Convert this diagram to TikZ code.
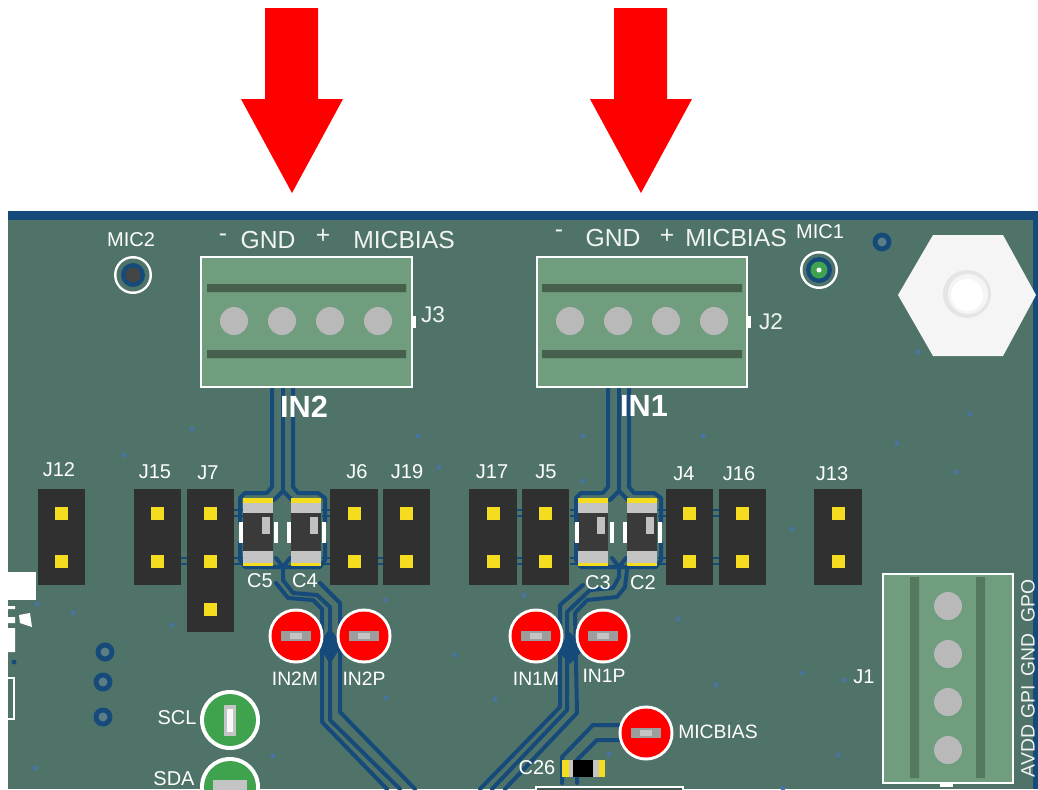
\documentclass[tikz,border=0pt]{standalone}
\usepackage{fontspec}
\setmainfont{Liberation Sans}
\definecolor{board}{HTML}{4F7368}
\definecolor{trace}{HTML}{154A7A}
\definecolor{term}{HTML}{6F9D7E}
\definecolor{termbar}{HTML}{47604D}
\definecolor{termbarv}{HTML}{55785F}
\definecolor{hole}{HTML}{B9B9B9}
\definecolor{hdr}{HTML}{303030}
\definecolor{pinc}{HTML}{F5DC1E}
\definecolor{dotc}{HTML}{4A74A0}
\definecolor{tpg}{HTML}{3FA34D}
\definecolor{padg}{HTML}{C4C4C4}
\tikzset{
  lab/.style={text=white,inner sep=0pt,font=\fontsize{15}{15}\selectfont},
  labbig/.style={text=white!92!board,inner sep=0pt,font=\fontsize{18.5}{18.5}\selectfont},
  labtp/.style={text=white,inner sep=0pt,font=\fontsize{14.5}{15}\selectfont},
  labin/.style={text=white,inner sep=0pt,font=\bfseries\fontsize{23}{24}\selectfont},
  labrot/.style={text=white!92!board,inner sep=0pt,rotate=90,font=\fontsize{14.5}{15}\selectfont},
  tr/.style={draw=trace,line width=3pt,line join=round,line cap=round},
  stub/.style={draw=trace,line width=1.8pt},
  hdrbox/.style={fill=hdr},
  pinsq/.style={fill=pinc},
  tbox/.style={draw=white,line width=2pt,fill=term},
  arrowred/.style={fill=red},
}
\newcommand{\tphole}[2]{\fill[hole] (#1,#2) circle (14);}
\newcommand{\hdrblock}[4]{% left, right, bottom, n
  \fill[hdrbox] (#1,489) rectangle (#2,#3);
  \foreach \k in {1,...,#4}{\fill[pinsq] ({(#1+#2)/2-6.5},{513+48*(\k-1)-6.5}) rectangle ++(13,13);}
}
\newcommand{\capbody}[1]{% left x of 30-wide cap
  \fill[pinc] (#1,498) rectangle ++(30,68);
  \fill[padg] (#1,503) rectangle ++(30,10);
  \fill[hdr!95!white] (#1,513) rectangle ++(30,38);
  \fill[padg] (#1,551) rectangle ++(30,12);
  \fill[white!70!hdr] ({#1+19},517) rectangle ++(8,17);
}
\newcommand{\sidebar}[1]{\fill[white] (#1,522) rectangle ++(3.5,21);}
\newcommand{\redtp}[2]{
  \fill[white] (#1,#2) circle (27.5);
  \fill[red] (#1,#2) circle (24.5);
  \fill[padg!80!black] ({#1-15},{#2-5}) rectangle ++(30,10);
  \fill[padg] ({#1-6},{#2-3}) rectangle ++(12,6);
}
\newcommand{\viaring}[2]{
  \fill[trace] (#1,#2) circle (9.5);
  \fill[board!70!trace!85!white] (#1,#2) circle (4.5);
}
\begin{document}
\begin{tikzpicture}[x=0.75pt,y=-0.75pt]
\clip (0,0) rectangle (1038,789);
\useasboundingbox (0,0) rectangle (1038,789);
\fill[white] (0,0) rectangle (1038,789);
% arrows
\fill[arrowred] (265,8)--(318,8)--(318,99)--(343,99)--(292,193)--(241,99)--(265,99)--cycle;
\fill[arrowred] (614,8)--(667,8)--(667,99)--(692,99)--(641,193)--(590,99)--(614,99)--cycle;
% board
\fill[board] (8,211) rectangle (1038,789);
\fill[trace] (8,211) rectangle (1038,219.5);
\fill[trace] (1033,211) rectangle (1038,789);
% scattered vias
\foreach \p in {(192,429),(124,455),(418,436),(439,467),(918,352),(583,436),(703,436),(970,414),(897,443),(956,472),(583,481),(37,604),(73,613),(172,625),(385,600),(386,698),(273,756),(35,768),(524,595),(678,619),(455,655),(495,699),(716,685),(609,754),(792,529),(802,673),(844,680),(838,755),(783,788)}
  \fill[dotc] \p circle (2.5);
% traces: top of the two capacitor groups
\foreach \dx in {0,336}{
\begin{scope}[shift={(\dx,0)}]
  \draw[tr] (272,387)--(272,487)--(267,493)--(245,493)--(240,498)--(240,522);
  \draw[tr] (240,543)--(240,560)--(245,567)--(283,567);
  \draw[tr] (293,387)--(293,487)--(298,493)--(318,493)--(325,498)--(325,522);
  \draw[tr] (325,543)--(325,560)--(320,567)--(283,567);
  \draw[tr] (283,387)--(283,491);
  \draw[tr] (274,500)--(283,491)--(292,500);
  \draw[tr] (276,558)--(283,567)--(290,558);
  \draw[stub] (234,510)--(243,510) (234,516)--(243,516);
  \draw[stub] (322,510)--(330,510) (322,516)--(330,516);
  \draw[stub] (234,558)--(243,558) (234,564)--(243,564);
  \draw[stub] (322,558)--(330,558) (322,564)--(330,564);
\end{scope}}
% jumper-to-jumper stubs
\draw[stub] (181,558)--(187,558) (181,564)--(187,564);
\draw[stub] (378,558)--(383,558) (378,564)--(383,564);
\draw[stub] (517,510)--(522,510) (517,516)--(522,516);
\draw[stub] (517,558)--(522,558) (517,564)--(522,564);
\draw[stub] (713,510)--(719,510) (713,516)--(719,516);
\draw[stub] (713,558)--(719,558) (713,564)--(719,564);
% IN2 lower traces
\draw[tr] (276,583)--(288,598)--(313,600)--(322,609)--(322,722)--(387,789);
\draw[tr] (283,567)--(283,580)--(293,593)--(317,595)--(330,607)--(330,720)--(400,789);
\draw[tr] (320,583)--(340,603)--(340,712)--(415,789);
\fill[trace] (330,628)--(342,645)--(330,664)--(318,645)--cycle;
% IN1 lower traces
\draw[tr] (583,585)--(560,605)--(560,707)--(480,789);
\draw[tr] (619,567)--(619,577)--(613,588)--(590,590)--(567,612)--(567,710)--(492,789);
\draw[tr] (627,570)--(625,587)--(617,597)--(587,600)--(575,613)--(577,713)--(505,789);
\fill[trace] (570,632)--(583,650)--(570,664)--(557,650)--cycle;
% MICBIAS traces
\draw[tr] (620,725)--(593,725)--(562,757)--(562,783);
\draw[tr] (620,740)--(597,740)--(577,760)--(577,783);
% terminal blocks
\draw[tbox] (201,257) rectangle (412,387);
\fill[termbar] (207,284) rectangle (406,292) (207,350) rectangle (406,358);
\foreach \x in {234,282,330,378}{\tphole{\x}{321}}
\fill[white] (412,316) rectangle (416,328);
\draw[tbox] (537,257) rectangle (747,387);
\fill[termbar] (542,284) rectangle (742,292) (542,350) rectangle (742,358);
\foreach \x in {570,618,666,714}{\tphole{\x}{321}}
\fill[white] (747,316) rectangle (751,328);
\draw[tbox] (883,574) rectangle (1013,783);
\fill[termbarv] (910,577) rectangle (919,778) (976,577) rectangle (985,778);
\foreach \y in {606,654,702,750}{\tphole{948}{\y}}
\fill[white] (940,783) rectangle (953,787);
% hexagon standoff
\fill[white!96!black] (898,295)--(933,235)--(1003,235)--(1036,295)--(1003,356)--(933,356)--cycle;
\fill[black!10] (967,294) circle (24);
\fill[white!96!black] (968,294) circle (20);
\fill[white] (967,295) circle (16);
% headers
\hdrblock{38}{85}{585}{2}
\hdrblock{134}{181}{585}{2}
\hdrblock{187}{234}{632}{3}
\hdrblock{330}{378}{585}{2}
\hdrblock{383}{430}{585}{2}
\hdrblock{469}{517}{585}{2}
\hdrblock{522}{569}{585}{2}
\hdrblock{666}{713}{585}{2}
\hdrblock{719}{766}{585}{2}
\hdrblock{814}{862}{585}{2}
% capacitors
\capbody{243}\capbody{291}\capbody{578}\capbody{627}
\sidebar{239}\sidebar{274}\sidebar{287}\sidebar{322}\sidebar{575}\sidebar{610}\sidebar{623}\sidebar{658}
% test points
\redtp{296}{636}\redtp{364}{636}\redtp{536}{636}\redtp{603}{636}\redtp{646}{733}
% green test points
\fill[white] (230,720) circle (30);
\fill[tpg] (230,720) circle (26);
\fill[padg] (224,705) rectangle (236,736);
\fill[white!90!padg] (227,709) rectangle (233,732);
\fill[white] (230,787) circle (30);
\fill[tpg] (230,787) circle (26);
\fill[padg] (213,780) rectangle (247,795);
% mic pads
\fill[white] (133,275) circle (19);
\fill[board] (133,275) circle (16.5);
\fill[trace] (133,275) circle (12);
\fill[hdr!90!white] (133,275) circle (7.5);
\fill[white] (819,270) circle (19);
\fill[board] (819,270) circle (16.5);
\fill[trace] (819,270) circle (13);
\fill[tpg] (819,270) circle (8.5);
\fill[white] (819,270) circle (2.5);
% plain vias
\viaring{882}{242}\viaring{105}{652}\viaring{103}{682}\viaring{103}{717}
% C26
\fill[pinc] (562,760) rectangle (605,777);
\fill[padg] (569,760) rectangle (599,777);
\fill[black] (573,760) rectangle (593,777);
% box at the bottom edge
\draw[white,line width=1.5pt,fill=hdr!40!board] (536,787) rectangle (683,800);
% white pieces on the left edge
\fill[white] (8,572) rectangle (36,600);
\fill[white] (8,606) rectangle (15,609) (8,617) rectangle (15,623) (8,628) rectangle (15,652);
\fill[white] (19,615)--(30,613)--(32,627)--(20,623)--cycle;
\fill[trace] (14,662) circle (2.5);
\draw[white,line width=1.5pt] (8,678)--(14,678)--(14,719)--(8,719);
% labels
\node[lab] (lmic2) at (131,240) {MIC2};
\node[labbig] (m2) at (223,238) {-};
\node[labbig] (g2) at (268,240) {GND};
\node[labbig] (p2) at (323,236) {+};
\node[labbig] (b2) at (404,240) {MICBIAS};
\node[labbig] (m1) at (559,234) {-};
\node[labbig] (g1) at (613,238) {GND};
\node[labbig] (p1) at (667,236) {+};
\node[labbig] (b1) at (736,238) {MICBIAS};
\node[lab] (lmic1) at (820,232) {MIC1};
\node[labbig,font=\fontsize{17}{17}\selectfont] (lj3) at (433,315) {J3};
\node[labbig,font=\fontsize{17}{17}\selectfont] (lj2) at (771,322) {J2};
\node[labin] (lin2) at (304,407) {IN2};
\node[labin] (lin1) at (644,406) {IN1};
\node[lab] (l12) at (59,470) {J12};
\node[lab] (l15) at (155,472) {J15};
\node[lab] (l7) at (208,473) {J7};
\node[lab] (l6) at (357,472) {J6};
\node[lab] (l19) at (407,472) {J19};
\node[lab] (l17) at (492,472) {J17};
\node[lab] (l5) at (546,472) {J5};
\node[lab] (l4) at (684,474) {J4};
\node[lab] (l16) at (739,474) {J16};
\node[lab] (l13) at (832,474) {J13};
\node[lab] (lc5) at (260,581) {C5};
\node[lab] (lc4) at (305,581) {C4};
\node[lab] (lc3) at (598,583) {C3};
\node[lab] (lc2) at (643,583) {C2};
\node[labtp] (ln2m) at (295,679) {IN2M};
\node[labtp] (ln2p) at (364,679) {IN2P};
\node[labtp] (ln1m) at (536,679) {IN1M};
\node[labtp] (ln1p) at (604,676) {IN1P};
\node[labtp] (lmb) at (718,732) {MICBIAS};
\node[lab] (lc26) at (537,768) {C26};
\node[lab] (lscl) at (177,718) {SCL};
\node[lab] (lsda) at (174,779) {SDA};
\node[lab] (lj1) at (864,677) {J1};
\node[labrot] (lgpo) at (1028,601) {GPO};
\node[labrot] (lgnd) at (1028,655) {GND};
\node[labrot] (lgpi) at (1028,702) {GPI};
\node[labrot] (lavdd) at (1028,751) {AVDD};
\end{tikzpicture}
\end{document}
